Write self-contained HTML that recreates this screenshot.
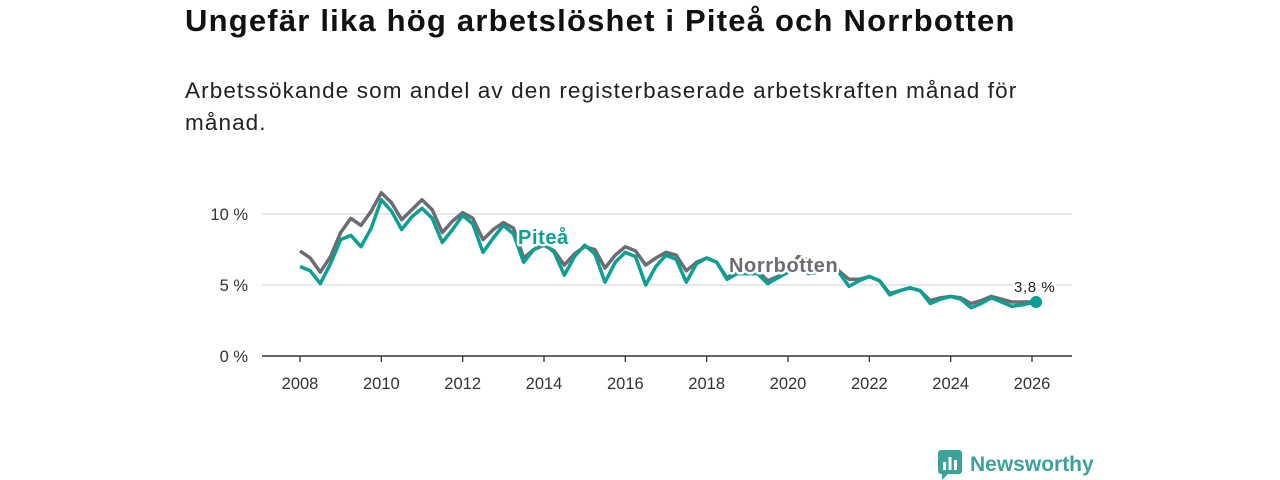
<!DOCTYPE html>
<html><head><meta charset="utf-8"><style>
body{margin:0;background:#fff;width:1280px;height:480px;overflow:hidden;font-family:"Liberation Sans","DejaVu Sans",sans-serif;}
h1{position:absolute;left:185px;top:3px;margin:0;font-size:31px;font-weight:bold;color:#111;letter-spacing:1.2px;white-space:nowrap;}
.sub{position:absolute;left:185px;top:75px;width:900px;font-size:22.5px;line-height:32px;color:#222;margin:0;letter-spacing:1.1px;white-space:nowrap;}
svg{position:absolute;left:0;top:0;}
</style></head><body>
<h1>Ungefär lika hög arbetslöshet i Piteå och Norrbotten</h1>
<p class="sub">Arbetssökande som andel av den registerbaserade arbetskraften månad för<br>månad.</p>
<svg id="chart" width="1280" height="480"></svg>
<script>
const yTicks=[0,5,10];
const yTickLabels=["0 %","5 %","10 %"];
const xTicks=[2008,2010,2012,2014,2016,2018,2020,2022,2024,2026];
const norrbotten=[7.4,6.9,5.9,7.0, 8.7,9.7,9.2,10.2, 11.5,10.8,9.6,10.3, 11.0,10.3,8.7,9.5, 10.1,9.7,8.2,8.9, 9.4,9.0,6.9,7.5, 7.8,7.4,6.4,7.2, 7.7,7.5,6.2,7.1, 7.7,7.4,6.4,6.9, 7.3,7.1,6.0,6.6, 6.9,6.6,5.5,6.0, 6.0,6.0,5.3,5.6, 6.0,7.0,6.8,6.2, 6.3,6.0,5.4,5.4, 5.6,5.3,4.4,4.6, 4.8,4.6,3.9,4.1, 4.2,4.1,3.7,3.9, 4.2,4.0,3.8,3.8, 3.8];
const pitea=[6.3,6.0,5.1,6.5, 8.2,8.5,7.7,9.0, 11.0,10.2,8.9,9.8, 10.4,9.7,8.0,8.9, 9.9,9.3,7.3,8.3, 9.2,8.6,6.6,7.5, 7.9,7.3,5.7,7.0, 7.8,7.2,5.2,6.6, 7.3,7.0,5.0,6.3, 7.1,6.8,5.2,6.5, 6.9,6.6,5.4,5.8, 5.8,5.8,5.1,5.5, 5.9,6.4,5.8,5.9, 6.2,5.9,4.9,5.3, 5.6,5.3,4.3,4.6, 4.8,4.6,3.7,4.0, 4.2,4.0,3.4,3.7, 4.1,3.8,3.5,3.6, 3.8];
const startYear=2008, step=0.25, endYear=2026.1;
const X=v=>300+(v-2008)*(732/18);
const Y=v=>356-v*14.2;
const svg=document.getElementById('chart');
const NS='http://www.w3.org/2000/svg';
function mk(t,a){const e=document.createElementNS(NS,t);for(const k in a)e.setAttribute(k,a[k]);svg.appendChild(e);return e;}
yTicks.forEach((t,i)=>{
 const l=mk('line',{x1:262,x2:1072,y1:Y(t),y2:Y(t),stroke:t===0?'#333':'#d9d9d9','stroke-width':t===0?1.5:1.3});
 
 
 const tx=mk('text',{x:248,y:Y(t)+6,'text-anchor':'end','font-size':16.5,fill:'#333'});
 tx.textContent=yTickLabels[i];
 
 
});
xTicks.forEach(t=>{
 const l=mk('line',{x1:X(t),x2:X(t),y1:356,y2:362,stroke:'#333','stroke-width':1.3});
 
 
 const tx=mk('text',{x:X(t),y:389,'text-anchor':'middle','font-size':16.5,fill:'#333'});
 tx.textContent=t;
 
 
});
function line(arr,color,name){
 const pts=arr.map((v,i)=>{const yr=Math.min(startYear+i*step,endYear);return X(yr+(i===arr.length-1?0.1:0)).toFixed(1)+','+Y(v).toFixed(1);}).join(' ');
 const p=mk('polyline',{points:pts,fill:'none',stroke:color,'stroke-width':3.5,'stroke-linejoin':'round'});
 
 
}
line(norrbotten,'#6d6c72','norrbotten-line');
line(pitea,'#0aa094','pitea-line');
const last=pitea[pitea.length-1];
const dot=mk('circle',{cx:X(2026.1),cy:Y(last),r:6,fill:'#0aa094'});


function lab(txt,x,y,color,size,bold,name){
 const t=mk('text',{x:x,y:y,'font-size':size,'font-weight':bold?'bold':'normal',fill:color,stroke:'#fff','stroke-width':5,'paint-order':'stroke','stroke-linejoin':'round','letter-spacing':0.6});
 t.textContent=txt;
 
 
}
lab('Piteå',518,244,'#0aa094',20,true,'pitea-label');
lab('Norrbotten',729,272,'#6d6c72',20,true,'norrbotten-label');
lab('3,8 %',1014,292,'#222',15,false,'end-value-label');
</script>
<div style="position:absolute;left:938px;top:450px;display:flex;align-items:center;">
<svg width="26" height="30" style="position:static"><rect x="0" y="0" width="24" height="24" rx="3" fill="#3ca399"/><polygon points="4,24 10,24 4,30" fill="#3ca399"/><rect x="5" y="12" width="3" height="8" fill="#fff"/><rect x="10.5" y="7" width="3" height="13" fill="#fff"/><rect x="16" y="10" width="3" height="10" fill="#fff"/></svg>
<span style="font-size:21px;font-weight:bold;color:#3ca399;margin-left:6px;">Newsworthy</span></div>
</body></html>
